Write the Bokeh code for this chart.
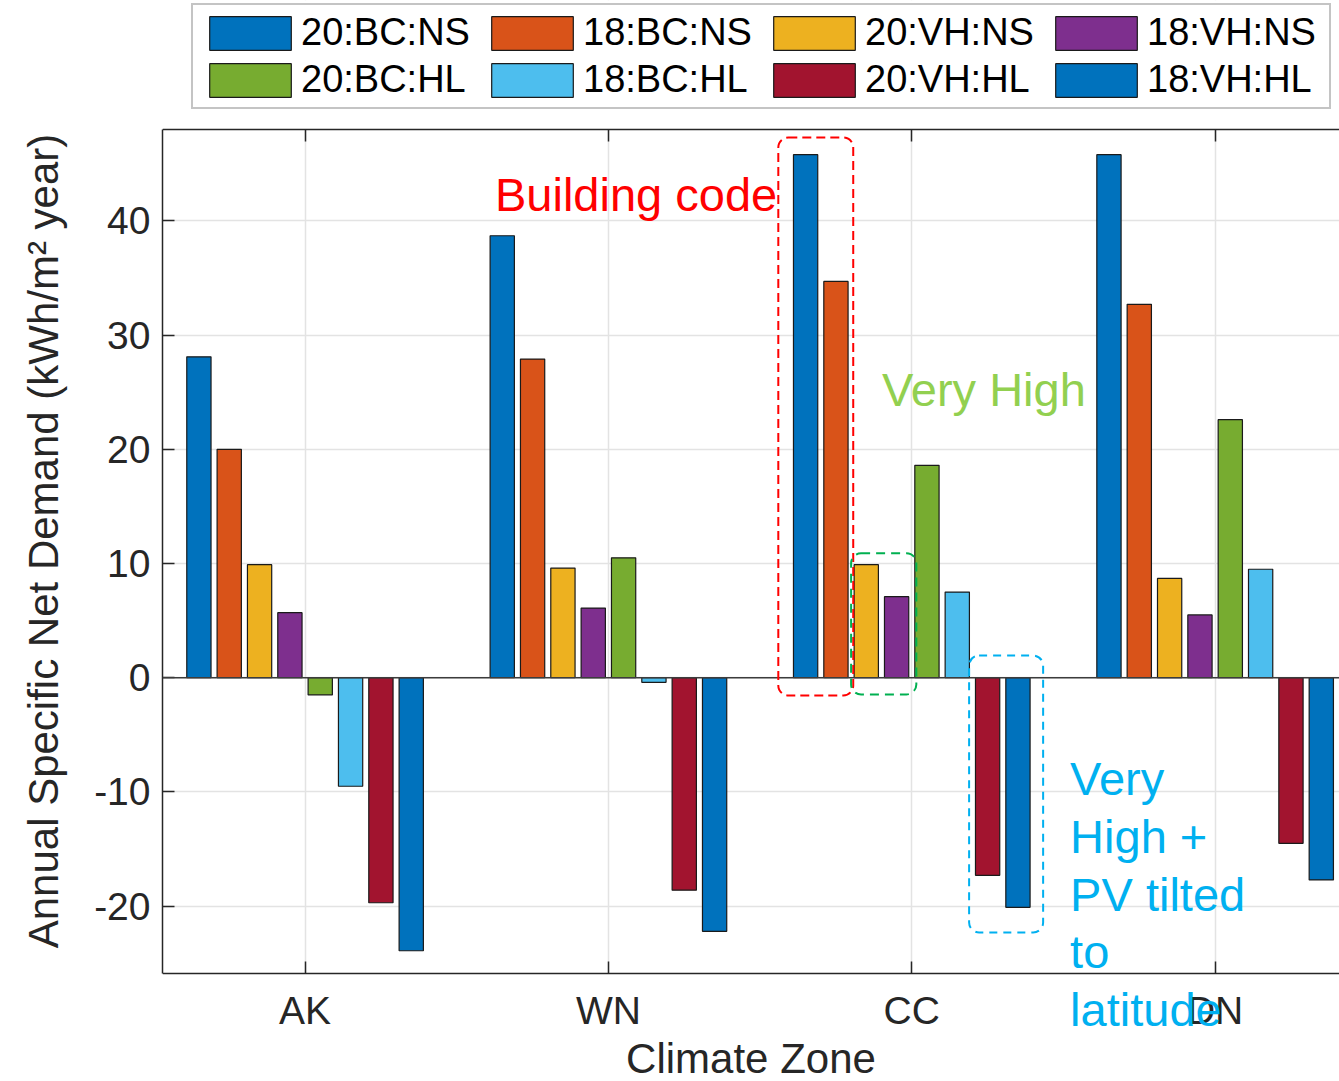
from bokeh.plotting import figure
from bokeh.models import (FixedTicker, LinearAxis, Span, BoxAnnotation, Label,
                          Legend, LegendItem, Range1d, ColumnDataSource)
from bokeh.embed import file_html
from bokeh.resources import INLINE

# ---- data -----------------------------------------------------------------
zones = ["AK", "WN", "CC", "DN"]
series = ["20:BC:NS", "18:BC:NS", "20:VH:NS", "18:VH:NS",
          "20:BC:HL", "18:BC:HL", "20:VH:HL", "18:VH:HL"]

bc20_ns = [28.1, 38.7, 45.8, 45.8]
bc18_ns = [20.0, 27.9, 34.7, 32.7]
vh20_ns = [9.9, 9.6, 9.9, 8.7]
vh18_ns = [5.7, 6.1, 7.1, 5.5]
bc20_hl = [-1.5, 10.5, 18.6, 22.6]
bc18_hl = [-9.5, -0.4, 7.5, 9.5]
vh20_hl = [-19.7, -18.6, -17.3, -14.5]
vh18_hl = [-23.9, -22.2, -20.1, -17.7]

values = [bc20_ns, bc18_ns, vh20_ns, vh18_ns, bc20_hl, bc18_hl, vh20_hl, vh18_hl]

y_ticks = [-20, -10, 0, 10, 20, 30, 40]

# ---- styling --------------------------------------------------------------
colors = ["#0072BD", "#D95319", "#EDB120", "#7E2F8E",
          "#77AC30", "#4DBEEE", "#A2142F", "#0072BD"]
FONT = "Liberation Sans"
INK = "#262626"

# axes box (data units); the canvas extends beyond it so that the legend
# and the callout text can sit outside the box
Y_LO, Y_HI = -25.9, 48.0
X_LO, X_HI = 0.53, 4.47

group_pos = [i + 1 for i in range(len(zones))]
n = len(series)
step = 0.1
bar_w = 0.08

p = figure(width=1339, height=1081,
           x_range=Range1d(X_LO, 4.41), y_range=Range1d(-35.35, 59.3),
           output_backend="svg", toolbar_location=None,
           min_border_left=162, min_border_right=0,
           min_border_top=0, min_border_bottom=0)
p.outline_line_color = None
p.background_fill_color = "white"
p.border_fill_color = "white"

renderers = []
for i, (name, vals) in enumerate(zip(series, values)):
    off = (i - (n - 1) / 2) * step
    src = ColumnDataSource(dict(x=[g + off for g in group_pos], top=vals))
    r = p.vbar(x="x", top="top", bottom=0, width=bar_w, source=src,
               fill_color=colors[i], line_color="#1a1a1a", line_width=1.2)
    renderers.append(r)

# zero baseline
p.add_layout(Span(location=0, dimension="width", line_color="#3c3c3c",
                  line_width=1.5))

# ---- grid -----------------------------------------------------------------
xt = FixedTicker(ticks=group_pos)
yt = FixedTicker(ticks=y_ticks)
p.xgrid.ticker = xt
p.ygrid.ticker = yt
for g in (p.xgrid[0], p.ygrid[0]):
    g.grid_line_color = "#e3e3e3"
    g.grid_line_width = 1.5

# keep the grid inside the axes box
for lo, hi in ((None, Y_LO), (Y_HI, None)):
    p.add_layout(BoxAnnotation(bottom=lo, top=hi, fill_color="white",
                               fill_alpha=1, line_alpha=0, level="underlay"))

# ---- axes -----------------------------------------------------------------
p.xaxis.ticker = xt
p.yaxis.ticker = yt
p.xaxis.major_label_overrides = {g: z for g, z in zip(group_pos, zones)}
p.yaxis.major_label_overrides = {t: str(t) for t in y_ticks}
p.xaxis.fixed_location = Y_LO
p.xaxis.bounds = (X_LO, X_HI)
p.yaxis.bounds = (Y_LO, Y_HI)

for ax in (p.xaxis[0], p.yaxis[0]):
    ax.axis_line_color = INK
    ax.axis_line_width = 1.5
    ax.major_tick_line_color = INK
    ax.major_tick_line_width = 1.5
    ax.major_tick_in = 12
    ax.major_tick_out = 0
    ax.minor_tick_line_color = None
    ax.major_label_text_font = FONT
    ax.major_label_text_font_size = "39px"
    ax.major_label_text_color = INK
    ax.axis_label_text_font = FONT
    ax.axis_label_text_font_size = "42px"
    ax.axis_label_text_font_style = "normal"
    ax.axis_label_text_color = INK

p.xaxis.axis_label = "Climate Zone"
p.xaxis.major_label_standoff = 15
p.xaxis.axis_label_standoff = 0
p.yaxis.axis_label = "Annual Specific Net Demand (kWh/m\u00b2 year)"
p.yaxis.major_label_standoff = 12
p.yaxis.axis_label_standoff = 24

top_axis = LinearAxis(ticker=FixedTicker(ticks=group_pos),
                      fixed_location=Y_HI, bounds=(X_LO, X_HI),
                      major_label_overrides={g: "" for g in group_pos},
                      axis_line_color=INK, axis_line_width=1.5,
                      major_tick_line_color=INK, major_tick_line_width=1.5,
                      major_tick_in=12, major_tick_out=0,
                      minor_tick_line_color=None,
                      major_label_text_font_size="1px")
p.add_layout(top_axis, "above")

# ---- callouts -------------------------------------------------------------
p.add_layout(BoxAnnotation(left=2.56, right=2.807, bottom=-1.55, top=47.3,
                           fill_color=None, fill_alpha=0,
                           line_color="#FF0000", line_alpha=1, line_width=2,
                           line_dash="9 5", border_radius=10))
p.add_layout(BoxAnnotation(left=2.80, right=3.015, bottom=-1.46, top=10.9,
                           fill_color=None, fill_alpha=0,
                           line_color="#00B050", line_alpha=1, line_width=2,
                           line_dash="9 6", border_radius=10))
p.add_layout(BoxAnnotation(left=3.189, right=3.433, bottom=-22.3, top=1.95,
                           fill_color=None, fill_alpha=0,
                           line_color="#00B0F0", line_alpha=1, line_width=2,
                           line_dash="8 6", border_radius=10))

p.add_layout(Label(x=1.626, y=42.35, text="Building code",
                   text_color="#FF0000", text_font=FONT,
                   text_font_size="47px", text_baseline="alphabetic"))
p.add_layout(Label(x=2.902, y=25.25, text="Very High",
                   text_color="#92D050", text_font=FONT,
                   text_font_size="47px", text_baseline="alphabetic"))

pv_lines = ["Very", "High +", "PV tilted", "to", "latitude"]
pv_y = [-8.85, -13.9, -18.95, -24.0, -29.05]
for t, yy in zip(pv_lines, pv_y):
    p.add_layout(Label(x=3.522, y=yy, text=t, text_color="#00B0F0",
                       text_font=FONT, text_font_size="47px",
                       text_baseline="alphabetic"))

# ---- legend ---------------------------------------------------------------
legend = Legend(items=[LegendItem(label=s, renderers=[r])
                       for s, r in zip(series, renderers)],
                location=(29, 972), orientation="horizontal", ncols=4,
                glyph_width=102, glyph_height=42, label_standoff=0,
                label_width=176, spacing=4, padding=6, margin=0,
                label_text_font=FONT, label_text_font_size="38px",
                label_text_color="black",
                border_line_color="#8a8a8a", border_line_width=2,
                background_fill_color="white", background_fill_alpha=1)
p.add_layout(legend)

open("out.html", "w").write(file_html(p, INLINE))
